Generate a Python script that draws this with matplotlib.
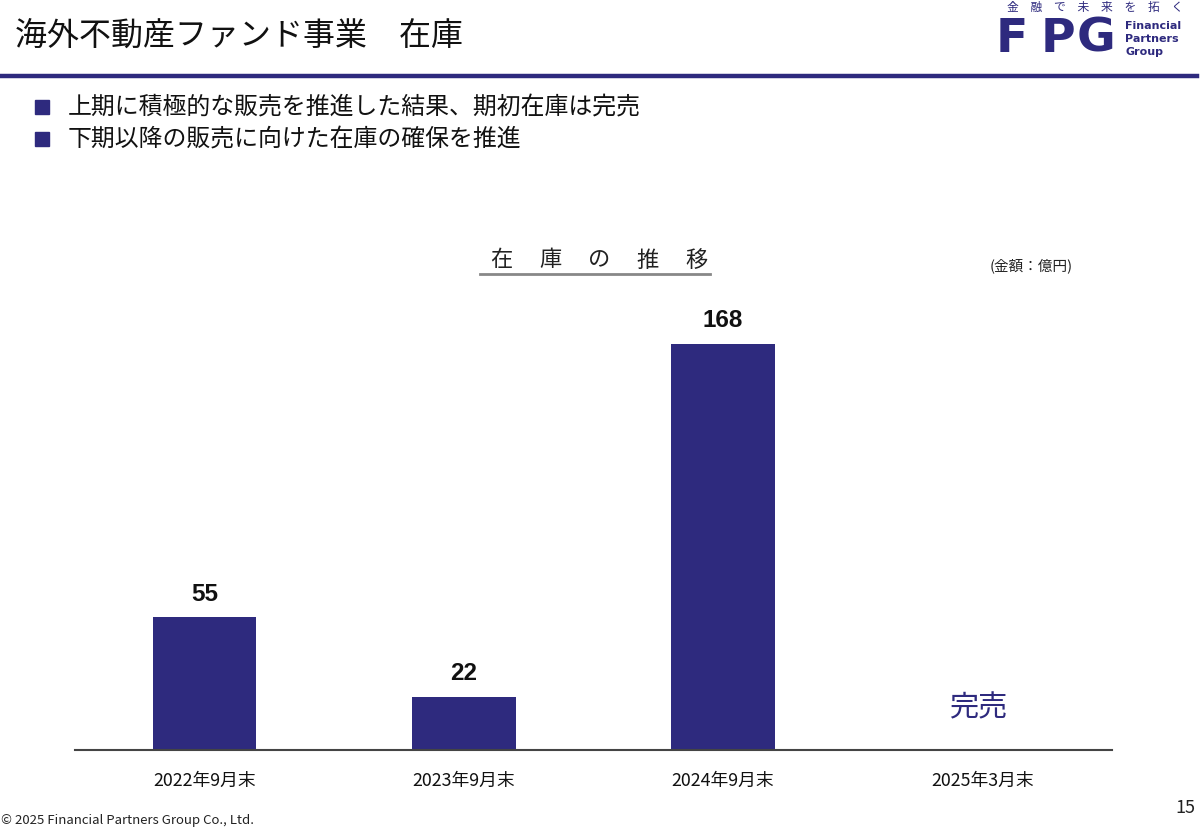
import matplotlib
matplotlib.use("Agg")
import matplotlib.pyplot as plt
from matplotlib.lines import Line2D
from matplotlib.patches import Rectangle

plt.rcParams['font.family'] = ['Noto Sans CJK JP', 'DejaVu Sans']

# ---- data ----
categories = ["2022年9月末", "2023年9月末", "2024年9月末", "2025年3月末"]
values = [55, 22, 168, 0]
value_labels = ["55", "22", "168", "完売"]

title = "海外不動産ファンド事業　在庫"
bullets = ["上期に積極的な販売を推進した結果、期初在庫は完売",
           "下期以降の販売に向けた在庫の確保を推進"]
chart_title_chars = ["在", "庫", "の", "推", "移"]
unit_label = "(金額：億円)"
footer = "© 2025 Financial Partners Group Co., Ltd."
page_no = "15"
logo_tagline = "金　融　で　未　来　を　拓　く"
logo_letters = ["F", "P", "G"]
logo_words = ["Financial", "Partners", "Group"]

NAVY = "#2E2A7E"

W, H = 1200, 829
fig = plt.figure(figsize=(W / 100, H / 100), dpi=100)

def fx(px):
    return px / W

def fy(py):
    return 1 - py / H

# header
fig.text(fx(15), fy(36), title, fontsize=23, va='center', ha='left', color='#111111')
fig.add_artist(Line2D([0, fx(1197)], [fy(77), fy(77)], color=NAVY, lw=3.2))

# logo
fig.text(fx(1095), fy(7), logo_tagline, fontsize=8.5, ha='center', va='center', color=NAVY)
for cx, letter in zip([1012, 1058, 1096], logo_letters):
    fig.text(fx(cx), fy(39), letter, fontsize=34, fontweight='black', ha='center', va='center',
             color=NAVY, family=['DejaVu Sans'])
for i, t in enumerate(logo_words):
    fig.text(fx(1125), fy(26 + 13 * i), t, fontsize=8, fontweight='bold', ha='left', va='center',
             color=NAVY, family=['DejaVu Sans'])

# bullets
for i, b in enumerate(bullets):
    y = 108 + 32 * i
    fig.add_artist(Rectangle((fx(35), fy(y + 7)), fx(14), 14 / H, color=NAVY, transform=fig.transFigure))
    fig.text(fx(68), fy(y), b, fontsize=17.2, ha='left', va='center', color='#111111')

# chart title
for i, ch in enumerate(chart_title_chars):
    fig.text(fx(501 + 49 * i), fy(260), ch, fontsize=16, ha='center', va='center', color='#222222')
fig.add_artist(Line2D([fx(480), fx(710)], [fy(275), fy(275)], color='#888888', lw=2))
fig.text(fx(1031), fy(266), unit_label, fontsize=10.5, ha='center', va='center', color='#222222')

# axes
ax = fig.add_axes([fx(75), fy(751), fx(1112) - fx(75), (751 - 267.6) / H])
x = list(range(len(categories)))
bars = ax.bar(x, values, width=0.4, color=NAVY)
ax.set_xlim(-0.5, 3.5)
ax.set_ylim(0, 200)
for s in ['top', 'right', 'left']:
    ax.spines[s].set_visible(False)
ax.spines['bottom'].set_color('#444444')
ax.spines['bottom'].set_linewidth(1.5)
ax.set_yticks([])
ax.set_xticks(x)
ax.set_xticklabels(categories, fontsize=12.8, color='#111111')
ax.tick_params(axis='x', length=0, pad=15)

for xi, v, lab in zip(x, values, value_labels):
    if v > 0:
        ax.annotate(lab, (xi, v), xytext=(0, 9), textcoords='offset points',
                    ha='center', va='bottom', fontsize=17.5, fontweight='bold', color='#111111',
                    family=['Liberation Sans'])
    else:
        ax.annotate(lab, (xi, 0), xytext=(-3, 31), textcoords='offset points',
                    ha='center', va='center', fontsize=21, color=NAVY)

# footer
fig.text(fx(1), fy(821), footer, fontsize=9.5, ha='left', va='center', color='#222222')
fig.text(fx(1195), fy(808), page_no, fontsize=13, ha='right', va='center', color='#222222')

fig.savefig("out.png", dpi=100)
